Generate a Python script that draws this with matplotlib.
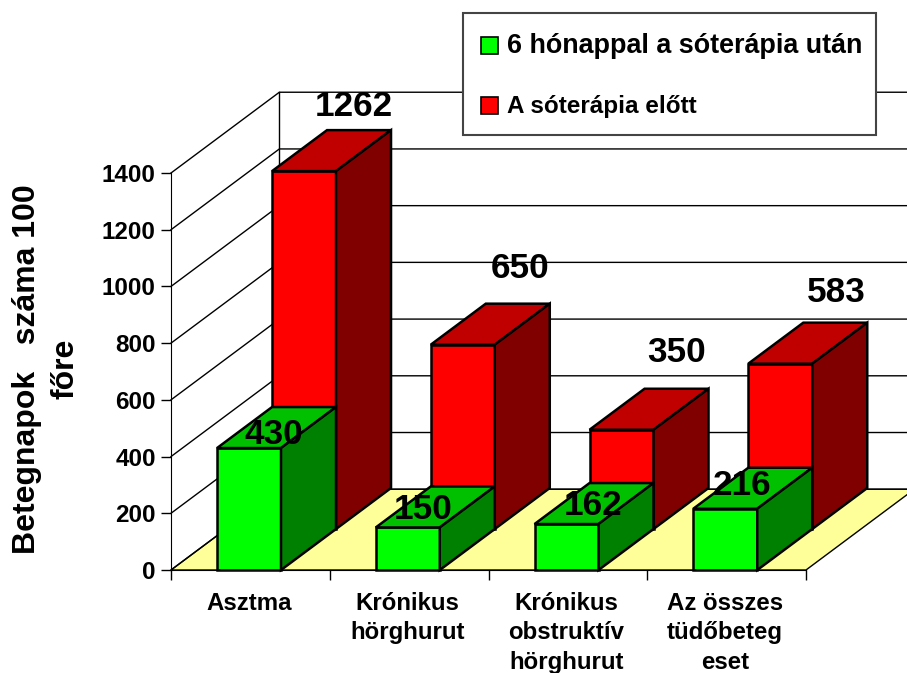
import matplotlib
matplotlib.use('Agg')
import matplotlib.pyplot as plt
from matplotlib.patches import Polygon, Rectangle

plt.rcParams['font.family'] = ['Liberation Sans', 'DejaVu Sans']
plt.rcParams['font.weight'] = 'bold'

# Data
categories = ['Asztma', 'Krónikus\nhörghurut', 'Krónikus\nobstruktív\nhörghurut', 'Az összes\ntüdőbeteg\neset']
after_values = [430, 150, 162, 216]
before_values = [1262, 650, 350, 583]
y_ticks = [0, 200, 400, 600, 800, 1000, 1200, 1400]
after_label = '6 hónappal a sóterápia után'
before_label = 'A sóterápia előtt'
y_title = 'Betegnapok   száma 100\nfőre'

W, H = 907, 673
fig = plt.figure(figsize=(W / 100, H / 100), dpi=100)
ax = fig.add_axes([171 / W, 1 - 570 / H, 635 / W, 397 / H])
ax.set_xlim(0, 4)
ax.set_ylim(0, 1400)
ax.patch.set_visible(False)

# fake 3D: one depth step moves 55 px right and 41 px up
dx = 55 / (635 / 4)
dy = 41 / (397 / 1400)
wall_z = 1.97
bar_w = 0.403
bar_off = 0.29


def shift(x, y, z):
    return (x + z * dx, y + z * dy)


def poly(points, color, lw=1.0, z=2):
    ax.add_patch(Polygon(points, closed=True, facecolor=color, edgecolor='black',
                         linewidth=lw, clip_on=False, zorder=z, joinstyle='miter'))


def box(left, value, z0, front, top, side):
    right = left + bar_w
    poly([shift(left, 0, z0), shift(right, 0, z0), shift(right, value, z0), shift(left, value, z0)], front, 1.8, 3)
    poly([shift(left, value, z0), shift(right, value, z0), shift(right, value, z0 + 1), shift(left, value, z0 + 1)], top, 1.8, 3)
    poly([shift(right, 0, z0), shift(right, 0, z0 + 1), shift(right, value, z0 + 1), shift(right, value, z0)], side, 1.8, 3)


# floor and walls
poly([shift(0, 0, 0), shift(4, 0, 0), shift(4, 0, wall_z), shift(0, 0, wall_z)], '#FFFF99', 1.0, 1)
for t in y_ticks:
    ax.plot(*zip(shift(0, t, 0), shift(0, t, wall_z), shift(4, t, wall_z)), color='black', lw=1.0,
            clip_on=False, zorder=1.5, solid_joinstyle='miter')
ax.plot(*zip(shift(0, 0, wall_z), shift(0, 1400, wall_z)), color='black', lw=1.0, clip_on=False, zorder=1.5)

# red row stands behind the green row
for i, v in enumerate(before_values):
    box(i + bar_off, v, 1, '#FF0000', '#C00000', '#800000')
for i, v in enumerate(after_values):
    box(i + bar_off, v, 0, '#00FF00', '#00C000', '#008000')

# value labels, nudged in pixels as in the original
before_nudge = [(50, 65), (57, 76), (55, 77), (56, 71)]
after_nudge = [(25, 14), (15, 18), (27, 19), (17, 23)]
for i, v in enumerate(before_values):
    ax.annotate(str(v), shift(i + bar_off + bar_w / 2, v, 1), xytext=(before_nudge[i][0] * 0.72, before_nudge[i][1] * 0.72),
                textcoords='offset points', ha='center', va='center', fontsize=25.3, zorder=5, annotation_clip=False)
for i, v in enumerate(after_values):
    ax.annotate(str(v), (i + bar_off + bar_w / 2, v), xytext=(after_nudge[i][0] * 0.72, after_nudge[i][1] * 0.72),
                textcoords='offset points', ha='center', va='center', fontsize=25.3, zorder=5, annotation_clip=False)

# axes
for s in ['top', 'right']:
    ax.spines[s].set_visible(False)
ax.set_yticks(y_ticks)
ax.set_xticks(range(5))
ax.set_xticklabels([])
ax.set_xticks([0.49, 1.49, 2.49, 3.49], minor=True)
ax.set_xticklabels(categories, minor=True, fontsize=17.3, linespacing=1.37)
ax.tick_params(axis='x', which='major', length=7.5, width=1.0)
ax.tick_params(axis='x', which='minor', length=0, pad=15.5)
ax.tick_params(axis='y', length=7.5, width=1.0, labelsize=17.5, pad=3.5)
fig.text(46 / W, 1 - 369 / H, y_title, rotation=90, ha='center', va='center', fontsize=23, linespacing=1.38, multialignment='center')

# legend box drawn by hand
fig.patches.append(Rectangle((463 / W, 1 - 135 / H), 413 / W, 122 / H, transform=fig.transFigure,
                             facecolor='white', edgecolor='#444444', linewidth=1.5, zorder=6))
fig.patches.append(Rectangle((481 / W, 1 - 54 / H), 17 / W, 17 / H, transform=fig.transFigure,
                             facecolor='#00FF00', edgecolor='black', linewidth=1.2, zorder=7))
fig.patches.append(Rectangle((481 / W, 1 - 114 / H), 17 / W, 17 / H, transform=fig.transFigure,
                             facecolor='#FF0000', edgecolor='black', linewidth=1.2, zorder=7))
fig.text(507 / W, 1 - 46 / H, after_label, fontsize=19.4, va='center', zorder=8)
fig.text(507 / W, 1 - 106 / H, before_label, fontsize=17.5, va='center', zorder=8)

fig.savefig('out.png', dpi=100)
